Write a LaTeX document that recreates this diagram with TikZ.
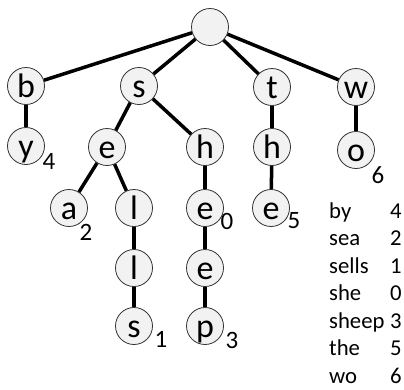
\documentclass[tikz,border=0pt]{standalone}
\usepackage{fontspec}
\setmainfont{Carlito}
\definecolor{nodefill}{HTML}{F2F2F2}
\begin{document}
\begin{tikzpicture}[x=1pt,y=-1pt,
  trie/.style={circle,draw=black!80,line width=0.8pt,fill=nodefill,minimum size=37pt,inner sep=0pt,
    font=\fontsize{34}{34}\selectfont,text height=22pt,text depth=0pt},
  edge/.style={line width=3.5pt},
  sub/.style={inner sep=0pt,font=\fontsize{25}{25}\selectfont},
  tab/.style={anchor=base west,inner sep=0pt,font=\fontsize{22.7}{22.7}\selectfont}]
\useasboundingbox (0,0) rectangle (404,389);
\node[trie] (r) at (210,27) {};
\node[trie] (b) at (26,86) {b};
\node[trie] (s) at (139,86) {s};
\node[trie] (t) at (272,87) {t};
\node[trie] (w) at (356,87) {w};
\node[trie] (y) at (26,146) {y};
\node[trie] (se) at (107,147) {e};
\node[trie] (sh) at (205,147) {h};
\node[trie] (th) at (272,147) {h};
\node[trie] (wo) at (356,150) {o};
\node[trie] (sea) at (69,208) {a};
\node[trie] (sel) at (134,208) {l};
\node[trie] (she) at (205,208) {e};
\node[trie] (the) at (271,208) {e};
\node[trie] (sell) at (134,268) {l};
\node[trie] (shee) at (205,268) {e};
\node[trie] (sells) at (134,326) {s};
\node[trie] (sheep) at (205,326) {p};
\draw[edge] (r) -- (b);
\draw[edge] (r) -- (s);
\draw[edge] (r) -- (t);
\draw[edge] (r) -- (w);
\draw[edge] (b) -- (y);
\draw[edge] (s) -- (se);
\draw[edge] (s) -- (sh);
\draw[edge] (t) -- (th);
\draw[edge] (w) -- (wo);
\draw[edge] (se) -- (sea);
\draw[edge] (se) -- (sel);
\draw[edge] (sh) -- (she);
\draw[edge] (th) -- (the);
\draw[edge] (sel) -- (sell);
\draw[edge] (she) -- (shee);
\draw[edge] (sell) -- (sells);
\draw[edge] (shee) -- (sheep);
\node[sub] (n4) at (49,161) {4};
\node[sub] (n6) at (378,175) {6};
\node[sub] (n2) at (86,232) {2};
\node[sub] (n0) at (227,221) {0};
\node[sub] (n5) at (294,221) {5};
\node[sub] (n1) at (161,339) {1};
\node[sub] (n3) at (232,340) {3};
\node[tab] (k1) at (329,218) {by};
\node[tab] (v1) at (390,218) {4};
\node[tab] (k2) at (329,245.5) {sea};
\node[tab] (v2) at (390,245.5) {2};
\node[tab] (k3) at (329,273) {sells};
\node[tab] (v3) at (390,273) {1};
\node[tab] (k4) at (329,300.5) {she};
\node[tab] (v4) at (390,300.5) {0};
\node[tab] (k5) at (329,328) {sheep};
\node[tab] (v5) at (390,328) {3};
\node[tab] (k6) at (329,355.5) {the};
\node[tab] (v6) at (390,355.5) {5};
\node[tab] (k7) at (329,383) {wo};
\node[tab] (v7) at (390,383) {6};
\end{tikzpicture}
\end{document}
